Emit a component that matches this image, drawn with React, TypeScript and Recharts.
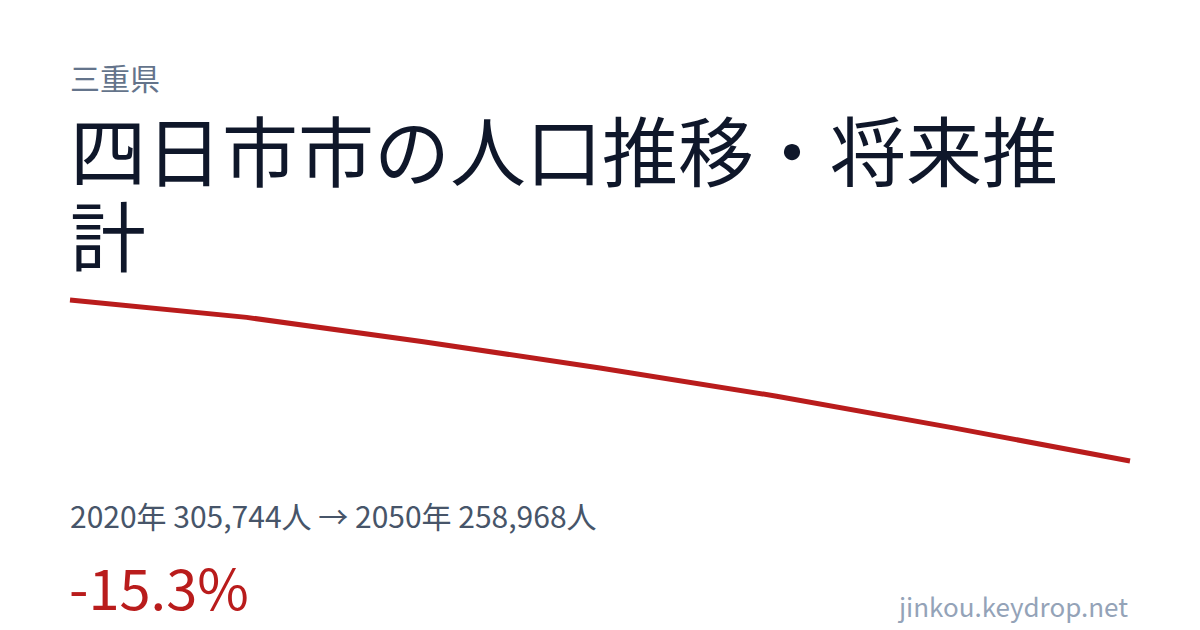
import React from 'react';
import { LineChart, Line, XAxis, YAxis } from 'recharts';

// 四日市市 population (2020 actual, 2025-2050 projection)
const years = ['2020', '2025', '2030', '2035', '2040', '2045', '2050'];
const population = [305744, 300700, 293600, 286000, 277800, 268600, 258968];

const data = years.map((year, i) => ({ year, pop: population[i] }));

const font = '"Noto Sans CJK JP", "Noto Sans", sans-serif';

export default function App() {
  return (
    <div
      style={{
        position: 'absolute',
        top: 0,
        left: 0,
        width: 1200,
        height: 630,
        background: '#ffffff',
        fontFamily: font,
        overflow: 'hidden',
      }}
    >
      <div style={{ position: 'absolute', left: 70, top: 62, fontSize: 30, color: '#64748b', lineHeight: 1 }}>
        三重県
      </div>
      <div
        style={{
          position: 'absolute',
          left: 70,
          top: 106,
          width: 1060,
          fontSize: 76,
          color: '#0f172a',
          lineHeight: 1.12,
        }}
      >
        四日市市の人口推移・将来推計
      </div>

      <div style={{ position: 'absolute', left: 65, top: 295 }}>
        <LineChart width={1070} height={171} data={data} margin={{ top: 5, right: 5, bottom: 5, left: 5 }}>
          <XAxis dataKey="year" hide />
          <YAxis hide domain={['dataMin', 'dataMax']} />
          <Line
            type="linear"
            dataKey="pop"
            stroke="#b91c1c"
            strokeWidth={5}
            dot={false}
            isAnimationActive={false}
          />
        </LineChart>
      </div>

      <div style={{ position: 'absolute', left: 70, top: 497, fontSize: 30, color: '#475569', lineHeight: 1.2 }}>
        2020年 305,744人 → 2050年 258,968人
      </div>
      <div style={{ position: 'absolute', left: 69, top: 552, fontSize: 56, color: '#b91c1c', lineHeight: 1.2 }}>
        -15.3%
      </div>
      <div style={{ position: 'absolute', right: 72, top: 590, fontSize: 26, color: '#94a3b8', lineHeight: 1.2 }}>
        jinkou.keydrop.net
      </div>
    </div>
  );
}
